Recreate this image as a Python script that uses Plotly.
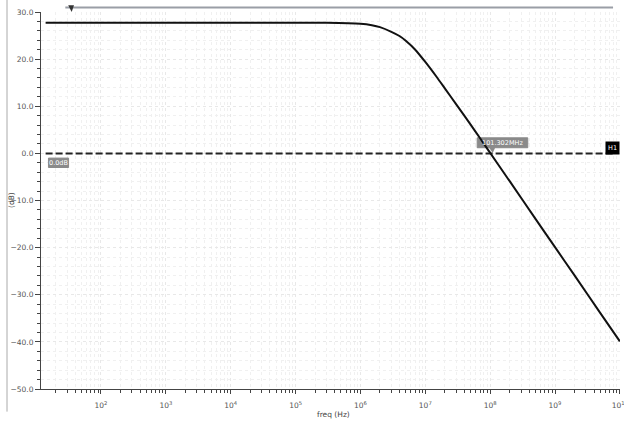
import plotly.graph_objects as go

# Data (AC gain response)
freq_hz = [14, 30, 1e2, 1e3, 1e4, 1e5, 3e5, 1e6, 1.5e6, 2e6, 3e6, 4e6, 5e6, 7e6,
           1e7, 1.5e7, 2e7, 3e7, 5e7, 7e7, 1e8, 2e8, 5e8, 1e9, 2e9, 5e9, 1e10]
gain_db = [27.7, 27.7, 27.7, 27.7, 27.7, 27.7, 27.7, 27.5, 27.2, 26.8, 25.8, 24.9, 23.9, 22.0,
           19.4, 16.2, 13.8, 10.4, 6.1, 3.2, 0.1, -5.9, -13.9, -19.9, -25.9, -33.9, -39.9]

# Horizontal marker H1
h1_db = 0.0
h1_freq = [14, 8.2e9]

# Marker crossing
cross_label = "101.302MHz"
h1_label = "0.0dB"

x_tick_vals = [1e2, 1e3, 1e4, 1e5, 1e6, 1e7, 1e8, 1e9, 1e10]
x_tick_text = ["10<sup>%d</sup>" % e for e in range(2, 11)]
y_tick_vals = [30, 20, 10, 0, -10, -20, -30, -40, -50]

FONT = "DejaVu Sans"
GRID = "#e8e8e8"
GRIDMIN = "#f0f0f0"

fig = go.Figure()

fig.add_trace(go.Scatter(
    x=h1_freq, y=[h1_db, h1_db], mode="lines",
    line=dict(color="#222222", width=2, dash="7px,3px"),
    hoverinfo="skip", showlegend=False))

fig.add_trace(go.Scatter(
    x=freq_hz, y=gain_db, mode="lines",
    line=dict(color="#111111", width=2, shape="spline", smoothing=0.6),
    showlegend=False))

fig.update_layout(
    width=624, height=422,
    margin=dict(l=41, r=4, t=11.5, b=32.5, autoexpand=False),
    paper_bgcolor="white", plot_bgcolor="white",
    font=dict(family=FONT, size=7.5, color="#555555"),
    showlegend=False,
)

fig.update_xaxes(
    type="log", range=[1.075, 10.002],
    tickmode="array", tickvals=x_tick_vals, ticktext=x_tick_text,
    ticks="outside", ticklen=4, tickcolor="#444444", tickwidth=1,
    ticklabelstandoff=5, ticklabeloverflow="allow",
    showline=True, linecolor="#444444", linewidth=1,
    showgrid=True, gridcolor=GRID, gridwidth=1, griddash="dot",
    minor=dict(dtick="D1", ticks="outside", ticklen=3, tickcolor="#444444",
               showgrid=True, gridcolor=GRIDMIN, griddash="dot"),
    tickfont=dict(size=7.5, color="#555555"),
    zeroline=False, automargin=False,
)

fig.update_yaxes(
    range=[-50, 30],
    tickmode="array", tickvals=y_tick_vals,
    tickformat=".1f",
    ticks="outside", ticklen=5, tickcolor="#444444", tickwidth=1,
    showline=True, linecolor="#444444", linewidth=1,
    showgrid=True, gridcolor=GRID, gridwidth=1, griddash="dot",
    minor=dict(dtick=2, ticks="outside", ticklen=3, tickcolor="#444444",
               showgrid=True, gridcolor=GRIDMIN, griddash="dot"),
    tickfont=dict(size=7.5, color="#555555"),
    zeroline=False, automargin=False,
)

# Axis titles
fig.add_annotation(xref="paper", yref="paper", x=(333 - 41) / 579, y=(389.5 - 415) / 378.0,
                   xanchor="center", yanchor="middle",
                   text="freq (Hz)", showarrow=False,
                   font=dict(size=7.5, color="#444444", family=FONT))
fig.add_annotation(xref="paper", yref="paper", x=(11 - 41) / 579, y=(389.5 - 200) / 378.0,
                   xanchor="center", yanchor="middle",
                   text="(dB)", showarrow=False, textangle=-90,
                   font=dict(size=7.5, color="#444444", family=FONT))

# Left vertical frame line and top scroll line
fig.add_shape(type="line", xref="paper", yref="paper", x0=-0.0587, x1=-0.0587, y0=-0.06, y1=1.04,
              line=dict(color="#aaaaaa", width=1))
fig.add_shape(type="line", xref="paper", yref="paper", x0=0.042, x1=0.988, y0=1.012, y1=1.012,
              line=dict(color="#9a9ea6", width=2))
fig.add_shape(type="path", xref="paper", yref="paper",
              path="M 0.047 1.018 L 0.057 1.018 L 0.053 1.0 Z",
              fillcolor="#333333", line=dict(width=0))

# Marker label box for crossing (shapes on log axis use real values)
fig.add_shape(type="rect", xref="x", yref="y", layer="between",
              x0=10 ** 7.8, x1=10 ** 8.58, y0=1.2, y1=3.3,
              fillcolor="#8a8a8a", line=dict(color="#8a8a8a", width=1))
fig.add_shape(type="path", xref="x", yref="y", layer="between",
              path="M %f 1.3 L %f 1.3 L %f 0.1 Z" % (10 ** 7.98, 10 ** 8.08, 10 ** 8.04),
              fillcolor="#8a8a8a", line=dict(width=0))
fig.add_annotation(x=8.19, y=2.25, xref="x", yref="y", text=cross_label, showarrow=False,
                   font=dict(size=6.5, color="white", family=FONT))

# 0.0dB box
fig.add_shape(type="rect", xref="x", yref="y", layer="between",
              x0=10 ** 1.19, x1=10 ** 1.5, y0=-3.0, y1=-1.0,
              fillcolor="#8a8a8a", line=dict(color="#8a8a8a", width=1))
fig.add_annotation(x=1.345, y=-2.0, xref="x", yref="y", text=h1_label, showarrow=False,
                   font=dict(size=6.5, color="white", family=FONT))

# H1 box
fig.add_annotation(x=10.0, y=h1_db + 1.2, xref="x", yref="y", text="H1", showarrow=False,
                   xanchor="right", bgcolor="black", borderpad=2,
                   font=dict(size=6.5, color="white", family=FONT))

fig.write_html("out.html", config={"displayModeBar": False},
               post_script="document.body.style.margin='0';")
